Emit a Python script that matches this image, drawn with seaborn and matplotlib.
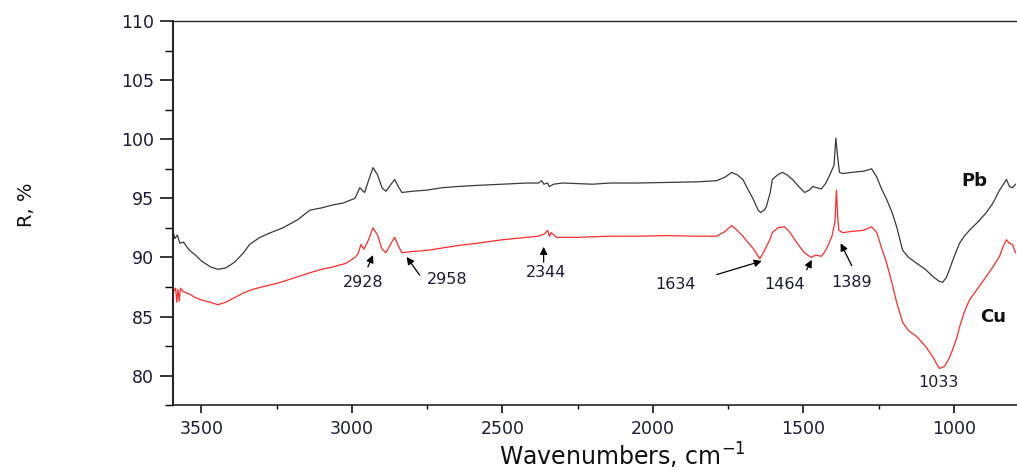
import numpy as np
import pandas as pd
import matplotlib
matplotlib.use("Agg")
import matplotlib.pyplot as plt
from matplotlib.ticker import MultipleLocator
import seaborn as sns

# ---- data ----
pb_wn = [3595, 3588, 3580, 3572, 3560, 3540, 3520, 3500, 3470, 3446, 3420, 3390, 3360, 3340,
         3306, 3270, 3230, 3180, 3140, 3100, 3063, 3030, 2990, 2974, 2958, 2945, 2930, 2915,
         2900, 2887, 2870, 2858, 2846, 2834, 2800, 2751, 2700, 2650, 2585, 2500, 2419, 2380,
         2370, 2362, 2350, 2344, 2330, 2300, 2200, 2143, 2050, 1950, 1850, 1788, 1760, 1738,
         1720, 1701, 1685, 1668, 1650, 1642, 1630, 1623, 1610, 1603, 1585, 1570, 1555, 1536,
         1515, 1496, 1480, 1469, 1455, 1440, 1425, 1412, 1398, 1392, 1386, 1380, 1369, 1340,
         1300, 1273, 1256, 1240, 1223, 1205, 1190, 1170, 1150, 1123, 1095, 1070, 1050, 1037,
         1025, 1014, 1000, 981, 965, 948, 920, 892, 870, 848, 835, 825, 815, 805, 795]
pb_r = [92.2, 91.6, 91.9, 91.2, 91.3, 90.6, 90.2, 89.7, 89.2, 89.0, 89.1, 89.6, 90.4, 91.1,
        91.7, 92.1, 92.5, 93.2, 94.0, 94.2, 94.45, 94.6, 95.0, 95.9, 95.5, 96.5, 97.6, 97.0,
        95.9, 95.6, 96.2, 96.6, 96.0, 95.5, 95.6, 95.7, 95.9, 96.0, 96.1, 96.2, 96.3, 96.3,
        96.5, 96.2, 96.3, 96.0, 96.2, 96.3, 96.2, 96.3, 96.3, 96.35, 96.4, 96.5, 96.8, 97.2,
        97.0, 96.6, 95.8, 95.0, 94.0, 93.8, 94.0, 94.3, 95.5, 96.6, 97.0, 97.2, 97.0, 96.6,
        96.0, 95.5, 95.7, 96.0, 95.9, 95.8, 96.3, 97.0, 97.8, 100.1, 98.5, 97.2, 97.1, 97.2,
        97.3, 97.5, 96.8, 95.8, 94.9, 93.8, 92.6, 90.6, 90.0, 89.5, 89.0, 88.4, 88.0, 87.9,
        88.3, 89.0, 90.0, 91.2, 91.8, 92.3, 93.0, 93.8, 94.6, 95.7, 96.2, 96.6, 96.0, 95.9, 96.2]

cu_wn = [3595, 3590, 3586, 3582, 3578, 3574, 3570, 3560, 3540, 3520, 3500, 3470, 3446, 3420,
         3390, 3360, 3330, 3300, 3250, 3200, 3140, 3100, 3063, 3020, 2990, 2980, 2970, 2960,
         2945, 2930, 2915, 2900, 2887, 2870, 2858, 2846, 2834, 2800, 2751, 2700, 2650, 2585,
         2500, 2419, 2380, 2360, 2350, 2344, 2338, 2320, 2250, 2143, 2050, 1950, 1850, 1788,
         1760, 1738, 1720, 1701, 1685, 1668, 1650, 1645, 1635, 1623, 1610, 1603, 1585, 1563,
         1550, 1536, 1515, 1496, 1480, 1473, 1460, 1440, 1428, 1420, 1405, 1395, 1390, 1386,
         1382, 1369, 1340, 1300, 1273, 1256, 1240, 1223, 1205, 1190, 1170, 1150, 1123, 1095,
         1070, 1055, 1047, 1030, 1015, 1004, 990, 981, 965, 948, 920, 892, 870, 848, 835, 825,
         815, 805, 795]
cu_r = [87.5, 87.2, 87.4, 86.2, 87.3, 86.3, 87.4, 87.1, 86.9, 86.6, 86.4, 86.2, 86.0, 86.2,
        86.6, 87.0, 87.3, 87.5, 87.8, 88.2, 88.7, 89.0, 89.2, 89.5, 90.0, 90.3, 91.1, 90.7,
        91.5, 92.5, 91.9, 90.7, 90.4, 91.2, 91.7, 91.0, 90.4, 90.5, 90.6, 90.8, 91.0, 91.2,
        91.5, 91.7, 91.8, 92.0, 92.3, 91.8, 92.1, 91.7, 91.7, 91.8, 91.8, 91.85, 91.8, 91.8,
        92.2, 92.7, 92.3, 91.8, 91.3, 90.8, 90.1, 89.9, 90.3, 90.9, 91.6, 92.1, 92.5, 92.6,
        92.3, 91.8, 91.0, 90.4, 90.1, 90.0, 90.2, 90.1, 90.5, 90.9, 91.8, 93.0, 95.7, 93.5,
        92.3, 92.1, 92.2, 92.3, 92.6, 92.1, 90.8, 89.5, 87.8, 86.2, 84.5, 83.8, 83.3, 82.5,
        81.6, 80.9, 80.6, 80.8, 81.5, 82.2, 83.2, 84.1, 85.4, 86.4, 87.4, 88.4, 89.2, 90.1,
        91.0, 91.5, 91.2, 91.1, 90.4]

peak_labels = ["2928", "2958", "2344", "1634", "1464", "1389"]
label_xy = [(2961, 87.85), (2685, 88.1), (2356, 88.7), (1924, 87.7), (1562, 87.7), (1339, 87.85)]
arrow_tail = [(2947, 89.2), (2775, 88.5), (2363, 89.6), (1788, 88.55), (1489, 88.95), (1339, 89.3)]
arrow_head = [(2930, 90.2), (2818, 90.05), (2363, 90.9), (1638, 89.7), (1472, 89.8), (1376, 91.2)]

y_ticks = [80, 85, 90, 95, 100, 105, 110]
x_ticks = [3500, 3000, 2500, 2000, 1500, 1000]

df = pd.concat([
    pd.DataFrame({"wn": pb_wn, "R": pb_r, "sample": "Pb"}),
    pd.DataFrame({"wn": cu_wn, "R": cu_r, "sample": "Cu"}),
])

sns.set_style("ticks")
plt.rcParams["font.family"] = ["DejaVu Sans"]

fig = plt.figure(figsize=(10.17, 4.70), dpi=100)
ax = fig.add_axes([0.170, 0.138, 0.83, 0.817])

sns.lineplot(data=df, x="wn", y="R", hue="sample", sort=False, estimator=None,
             palette={"Pb": "#3a3a3a", "Cu": "#ff2b2b"}, linewidth=0.9, legend=False, ax=ax)

ax.set_xlim(3595, 790)
ax.set_ylim(77.5, 110)
ax.set_xticks(x_ticks)
ax.set_yticks(y_ticks)
ax.xaxis.set_minor_locator(MultipleLocator(250))
ax.yaxis.set_minor_locator(MultipleLocator(2.5))

tick_col = "#1c1c36"
ax.tick_params(axis="y", which="major", direction="out", length=9.5, width=1.1,
               labelsize=12.5, colors="black", labelcolor=tick_col, pad=4)
ax.tick_params(axis="y", which="minor", direction="out", length=5.5, width=1.0, colors="black")
ax.tick_params(axis="x", which="major", direction="out", length=5.5, width=1.1,
               labelsize=12.5, colors="black", labelcolor=tick_col, pad=5)
ax.tick_params(axis="x", which="minor", direction="out", length=3, width=1.0, colors="black")

ax.spines["right"].set_visible(False)
ax.spines["left"].set_linewidth(1.5)
ax.spines["bottom"].set_linewidth(1.2)
ax.spines["top"].set_linewidth(1.0)

ax.set_xlabel("Wavenumbers, cm$^{-1}$", fontsize=17, color="#111111")
ax.xaxis.set_label_coords(0.533, -0.133)
ax.xaxis.label.set_va("center")
ax.set_ylabel("R, %", fontsize=14, color="#111111")
ax.yaxis.set_label_coords(-0.174, 0.523)
ax.yaxis.label.set_va("center")

for lab, (lx, ly), (tx, ty), (hx, hy) in zip(peak_labels, label_xy, arrow_tail, arrow_head):
    ax.annotate("", xy=(hx, hy), xytext=(tx, ty),
                arrowprops=dict(arrowstyle="-|>", color="black", lw=0.9, mutation_scale=11,
                                shrinkA=0, shrinkB=0))
    ax.text(lx, ly, lab, ha="center", va="center", fontsize=11.5, color=tick_col)

ax.text(1050, 79.4, "1033", ha="center", va="center", fontsize=11.5, color=tick_col)
ax.text(930, 96.5, "Pb", ha="center", va="center", fontsize=13, fontweight="bold", color="#111111")
ax.text(913, 85.0, "Cu", ha="left", va="center", fontsize=13, fontweight="bold",
        color="#111111", clip_on=False)

fig.savefig("out.png", dpi=100)
